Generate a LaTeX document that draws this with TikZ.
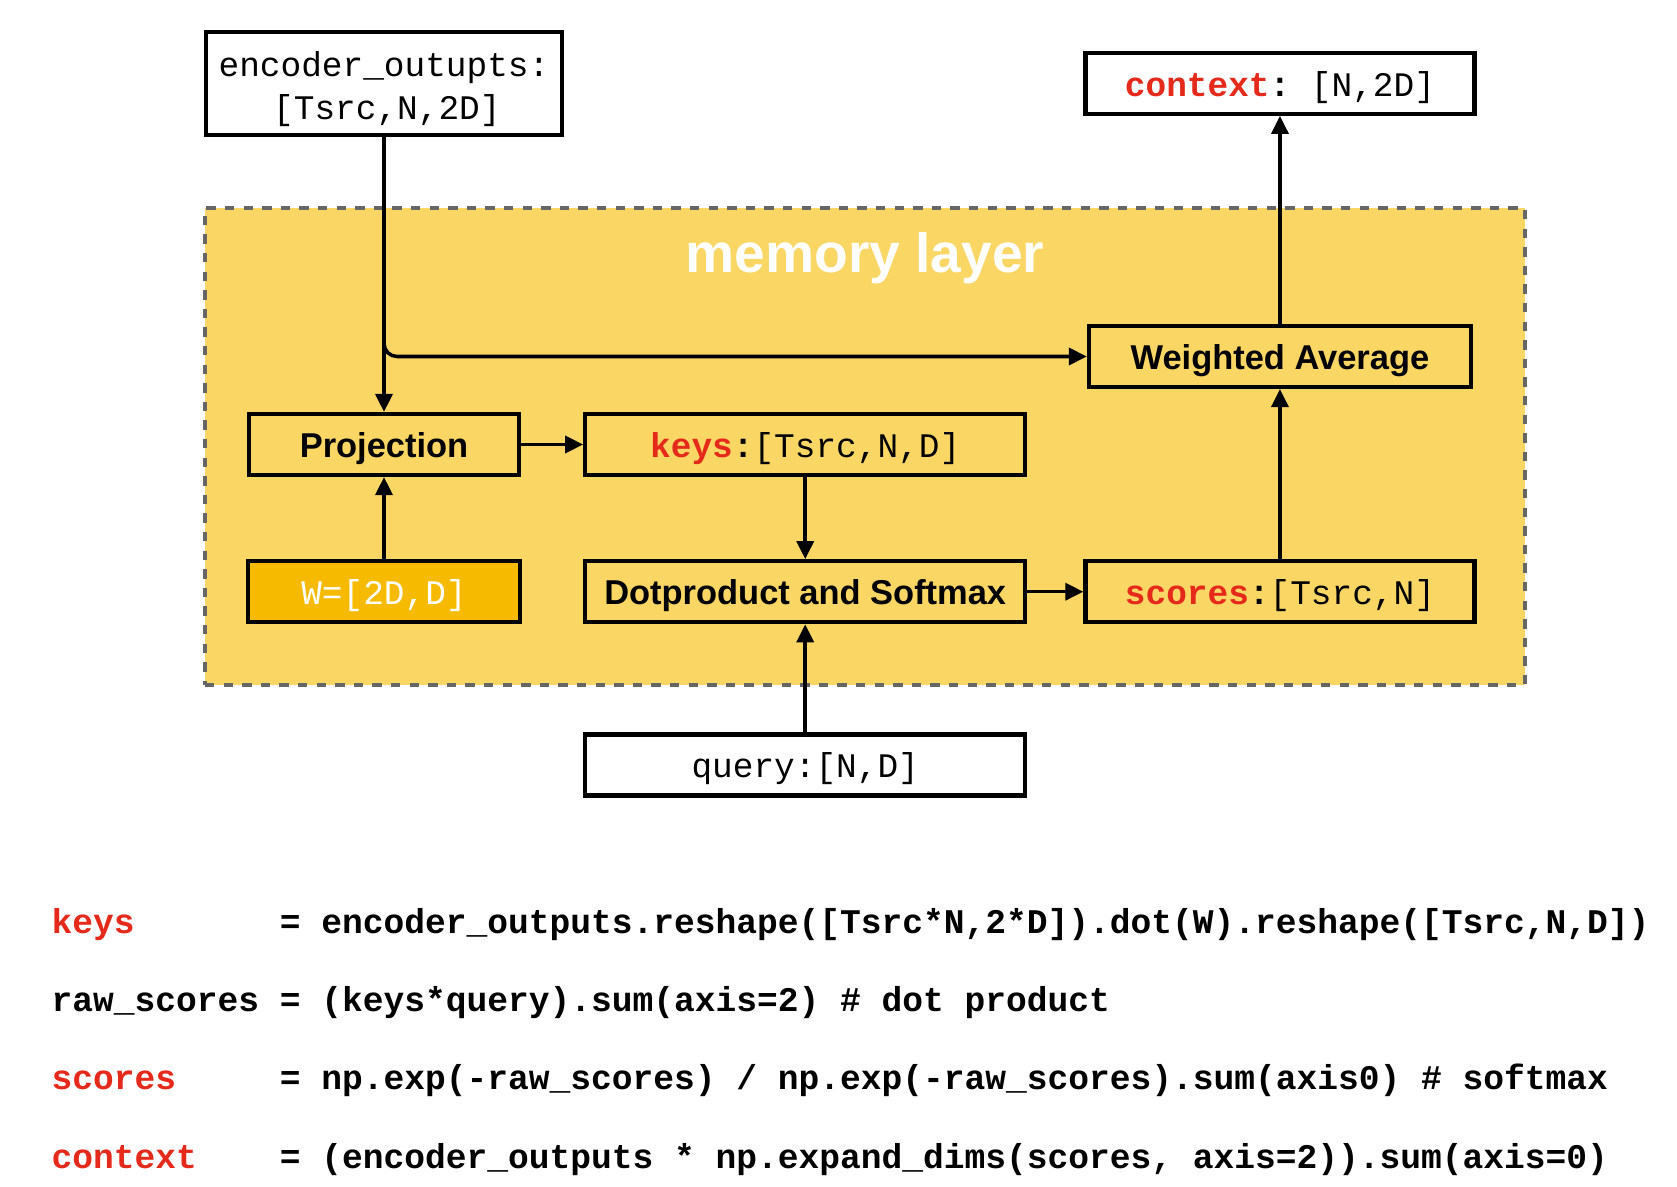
\documentclass[tikz,border=0pt]{standalone}
\usepackage{fontspec}
\setsansfont{Liberation Sans}
\setmonofont{Liberation Mono}
\usetikzlibrary{positioning, arrows.meta}
\definecolor{layerfill}{HTML}{FAD664}
\definecolor{wfill}{HTML}{F6BA00}
\definecolor{codered}{HTML}{E5291B}
\definecolor{dashgray}{HTML}{666666}
\newcommand{\kw}[1]{\textbf{\color{codered}#1}}

\begin{document}
\begin{tikzpicture}[
        font=\fontsize{9.8}{12.2}\selectfont\ttfamily,
        block/.style={rectangle, draw, line width=1.2pt, minimum height=0.61cm, align=center, inner sep=1pt},
        oneline/.style={text height=7.4pt, text depth=0pt},
        inbox/.style={block, fill=white},
        layerbox/.style={block, oneline, fill=layerfill},
        opbox/.style={layerbox, font=\fontsize{9.8}{12}\selectfont\sffamily\bfseries},
        wbox/.style={block, oneline, fill=wfill, text=white},
        layer/.style={rectangle, draw=dashgray, fill=layerfill, line width=1.1pt, dash pattern=on 0.093cm off 0.093cm},
        codeline/.style={anchor=base west, inner sep=0pt, font=\fontsize{9.84}{12}\selectfont\ttfamily\bfseries},
        arrow/.style={-{Triangle[length=0.18cm, width=0.17cm]}, line width=1pt}
    ]
    \useasboundingbox (0,0) rectangle (16.77,-11.87);

    % memory layer
    \node (mem) [layer, minimum width=13.2cm, minimum height=4.77cm] at (8.65,-4.465) {};
    \node (title) [anchor=base, text=white, font=\fontsize{15.7}{18}\selectfont\sffamily\bfseries] at (8.65,-2.73) {memory layer};

    \node (proj) [opbox, minimum width=2.70cm] at (3.84,-4.445) {Projection};
    \node (keys) [layerbox, minimum width=4.40cm, right=0.62cm of proj] {\kw{keys}\textbf{:}[Tsrc,N,D]};
    \node (w) [wbox, minimum width=2.72cm, below=0.82cm of proj] {W=[2D,D]};
    \node (dot) [opbox, minimum width=4.40cm, below=0.82cm of keys] {Dotproduct and Softmax};
    \node (scores) [layerbox, minimum width=3.89cm, right=0.56cm of dot] {\kw{scores}\textbf{:}[Tsrc,N]};
    \node (wavg) [opbox, minimum width=3.82cm, above=1.70cm of scores] {Weighted Average};

    % inputs and output
    \node (enc) [inbox, minimum width=3.56cm, minimum height=1.03cm, above=2.75cm of proj] {\rule{0pt}{10.4pt}encoder\_outupts:\\\,[Tsrc,N,2D]};
    \node (ctx) [inbox, oneline, minimum width=3.89cm, above=2.08cm of wavg] {\kw{context}\textbf{:} [N,2D]};
    \node (query) [inbox, oneline, minimum width=4.40cm, below=1.08cm of dot] {query:[N,D]};

    \draw [arrow] (enc) -- (proj);
    \draw [arrow, rounded corners=0.13cm] (enc.south) |- (wavg.west);
    \draw [arrow] (w) -- (proj);
    \draw [arrow] (proj) -- (keys);
    \draw [arrow] (keys) -- (dot);
    \draw [arrow] (query) -- (dot);
    \draw [arrow] (dot) -- (scores);
    \draw [arrow] (scores) -- (wavg);
    \draw [arrow] (wavg) -- (ctx);

    % code
    \node (keysline) [codeline] at (0.51,-9.33) {{\color{codered}keys}~~~~~~~= encoder\_outputs.reshape([Tsrc*N,2*D]).dot(W).reshape([Tsrc,N,D])};
    \node (rawline) [codeline] at (0.51,-10.11) {raw\_scores = (keys*query).sum(axis=2) \# dot product};
    \node (scoresline) [codeline] at (0.51,-10.89) {{\color{codered}scores}~~~~~= np.exp(-raw\_scores) / np.exp(-raw\_scores).sum(axis0) \# softmax};
    \node (ctxline) [codeline] at (0.51,-11.68) {{\color{codered}context}~~~~= (encoder\_outputs * np.expand\_dims(scores, axis=2)).sum(axis=0)};
\end{tikzpicture}
\end{document}
